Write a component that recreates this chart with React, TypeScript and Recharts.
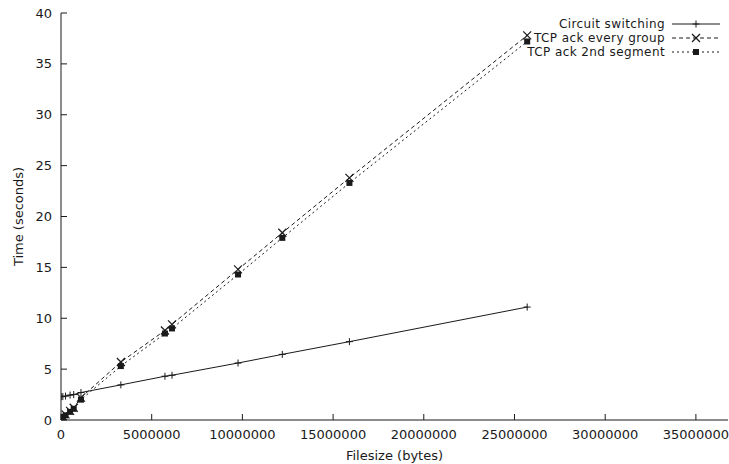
import React from 'react'
import { LineChart, Line, XAxis, YAxis, Legend } from 'recharts'

// file sizes in bytes
const fileSizes = [10000, 100000, 250000, 500000, 700000, 1100000, 3300000, 5730000, 6120000, 9760000, 12200000, 15900000, 25700000]
// transfer times in seconds
const circuitSwitching = [2.3, 2.3, 2.35, 2.45, 2.5, 2.7, 3.45, 4.3, 4.4, 5.6, 6.45, 7.7, 11.1]
const tcpAckEveryGroup = [0.2, 0.35, 0.55, 0.9, 1.2, 2.2, 5.7, 8.8, 9.4, 14.8, 18.4, 23.8, 37.8]
const tcpAck2ndSegment = [0.15, 0.3, 0.45, 0.8, 1.1, 2.0, 5.3, 8.5, 9.0, 14.3, 17.9, 23.3, 37.2]

const xTicks = [0, 5000000, 10000000, 15000000, 20000000, 25000000, 30000000, 35000000]
const yTicks = [0, 5, 10, 15, 20, 25, 30, 35, 40]

const data = fileSizes.map((size, i) => ({
  size,
  circuit: circuitSwitching[i],
  everyGroup: tcpAckEveryGroup[i],
  second: tcpAck2ndSegment[i],
}))

const FONT = '"DejaVu Sans", sans-serif'
const INK = '#1a1a1a'

const PlusDot = (props: any) => {
  const { cx, cy } = props
  if (cx == null || cy == null) return null
  return (
    <g stroke={INK} strokeWidth={1}>
      <line x1={cx - 3.5} y1={cy} x2={cx + 3.5} y2={cy} />
      <line x1={cx} y1={cy - 3.5} x2={cx} y2={cy + 3.5} />
    </g>
  )
}

const CrossDot = (props: any) => {
  const { cx, cy } = props
  if (cx == null || cy == null) return null
  return (
    <g stroke={INK} strokeWidth={1.2}>
      <line x1={cx - 4} y1={cy - 4} x2={cx + 4} y2={cy + 4} />
      <line x1={cx - 4} y1={cy + 4} x2={cx + 4} y2={cy - 4} />
    </g>
  )
}

const SquareDot = (props: any) => {
  const { cx, cy } = props
  if (cx == null || cy == null) return null
  return <rect x={cx - 3} y={cy - 3} width={6} height={6} fill={INK} />
}

const BottomTick = (props: any) => {
  const { x, y, payload } = props
  return (
    <g>
      <line x1={x} y1={y} x2={x} y2={y - 6} stroke={INK} />
      <text x={x} y={y + 14} textAnchor="middle" dominantBaseline="central" fontFamily={FONT} fontSize={13} fill={INK}>
        {payload.value}
      </text>
    </g>
  )
}

const TopTick = (props: any) => {
  const { x, y } = props
  return <line x1={x} y1={y} x2={x} y2={y + 6} stroke={INK} />
}

const LeftTick = (props: any) => {
  const { x, y, payload } = props
  return (
    <g>
      <line x1={x} y1={y} x2={x + 6} y2={y} stroke={INK} />
      <text x={x - 9} y={y} textAnchor="end" dominantBaseline="central" fontFamily={FONT} fontSize={13} fill={INK}>
        {payload.value}
      </text>
    </g>
  )
}

const RightTick = (props: any) => {
  const { x, y } = props
  return <line x1={x} y1={y} x2={x - 6} y2={y} stroke={INK} />
}

const legendRows = [
  { label: 'Circuit switching', dash: undefined, Dot: PlusDot },
  { label: 'TCP ack every group', dash: '4 3', Dot: CrossDot },
  { label: 'TCP ack 2nd segment', dash: '2 3', Dot: SquareDot },
]

const LegendBox = () => (
  <div style={{ fontFamily: FONT, fontSize: 12, letterSpacing: 0.4, color: INK, lineHeight: '14px' }}>
    {legendRows.map((row) => (
      <div key={row.label} style={{ display: 'flex', alignItems: 'center', height: 14 }}>
        <span style={{ width: 220, textAlign: 'right', whiteSpace: 'nowrap' }}>{row.label}</span>
        <svg width={56} height={14} style={{ marginLeft: 5 }}>
          <line x1={2} y1={7} x2={50} y2={7} stroke={INK} strokeDasharray={row.dash} />
          <row.Dot cx={26} cy={7} />
        </svg>
      </div>
    ))}
  </div>
)

export default function App() {
  return (
    <div style={{ position: 'absolute', left: 0, top: 0, background: '#fff' }}>
      <LineChart width={729} height={464} data={data} margin={{ top: 13, right: 1, bottom: 0, left: 0 }}>
        <XAxis
          dataKey="size"
          type="number"
          domain={[0, 36770000]}
          ticks={xTicks}
          interval={0}
          allowDataOverflow
          height={44}
          tickSize={0}
          tickMargin={0}
          tickLine={false}
          tick={<BottomTick />}
          stroke={INK}
          label={{ value: 'Filesize (bytes)', position: 'insideBottom', offset: 4, fontFamily: FONT, fontSize: 13, fill: INK }}
        />
        <XAxis
          xAxisId="top"
          dataKey="size"
          type="number"
          orientation="top"
          domain={[0, 36770000]}
          ticks={xTicks}
          interval={0}
          allowDataOverflow
          height={0}
          tickSize={0}
          tickMargin={0}
          tickLine={false}
          tick={<TopTick />}
          stroke={INK}
        />
        <YAxis
          type="number"
          domain={[0, 40]}
          ticks={yTicks}
          interval={0}
          allowDataOverflow
          width={61}
          tickSize={0}
          tickMargin={0}
          tickLine={false}
          tick={<LeftTick />}
          stroke={INK}
          label={{
            position: 'insideLeft',
            content: ({ viewBox }: any) => {
              const cx = 18
              const cy = viewBox.y + viewBox.height / 2
              return (
                <text x={cx} y={cy} transform={`rotate(-90, ${cx}, ${cy})`} textAnchor="middle" dominantBaseline="central" fontFamily={FONT} fontSize={13} fill={INK}>
                  Time (seconds)
                </text>
              )
            },
          }}
        />
        <YAxis
          yAxisId="right"
          orientation="right"
          type="number"
          domain={[0, 40]}
          ticks={yTicks}
          interval={0}
          allowDataOverflow
          width={0}
          tickSize={0}
          tickMargin={0}
          tickLine={false}
          tick={<RightTick />}
          stroke={INK}
        />
        <Legend
          verticalAlign="middle"
          align="center"
          layout="horizontal"
          wrapperStyle={{ left: 445, top: 17, width: 284, height: 42 }}
          content={() => <LegendBox />}
        />
        <Line dataKey="circuit" name="Circuit switching" stroke={INK} strokeWidth={1} dot={<PlusDot />} isAnimationActive={false} />
        <Line dataKey="everyGroup" name="TCP ack every group" stroke={INK} strokeWidth={1} strokeDasharray="4 3" dot={<CrossDot />} isAnimationActive={false} />
        <Line dataKey="second" name="TCP ack 2nd segment" stroke={INK} strokeWidth={1} strokeDasharray="2 3" dot={<SquareDot />} isAnimationActive={false} />
      </LineChart>
    </div>
  )
}
